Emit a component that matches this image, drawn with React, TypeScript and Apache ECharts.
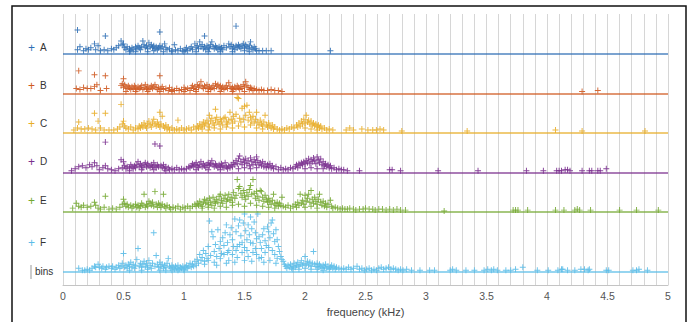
import React, { useEffect, useRef } from "react";
import * as echarts from "echarts";

// Row names and colours
const NAMES = ["A", "B", "C", "D", "E", "F"];
const COLORS = ["#2f6fb5", "#cf5a22", "#e8ad28", "#7a2f8e", "#74a832", "#5bbce8"];
// Frequency ticks (kHz)
const FREQ_MIN = 0;
const FREQ_MAX = 5;
const GRID_STEP = 0.1;
const LABEL_STEP = 0.5;

// [frequency kHz, bin height] per row
const A_PTS: number[][] = [
  [0.12, 24], [0.35, 18], [0.80, 22], [1.17, 18], [1.43, 28],
  [0.12, 4], [0.14, 7], [0.17, 3], [0.19, 5], [0.21, 4], [0.23, 6], [0.26, 10], [0.27, 4], [0.29, 8], [0.31, 3],
  [0.34, 4], [0.37, 3], [0.40, 5], [0.42, 4], [0.44, 6], [0.46, 8], [0.48, 13], [0.49, 9], [0.50, 10], [0.51, 6],
  [0.52, 4], [0.53, 7], [0.55, 5], [0.56, 3], [0.57, 6], [0.58, 4], [0.60, 7], [0.61, 5], [0.62, 8], [0.63, 6],
  [0.64, 4], [0.65, 7], [0.66, 13], [0.67, 9], [0.68, 6], [0.69, 8], [0.70, 5], [0.71, 11], [0.72, 7], [0.73, 9],
  [0.74, 6], [0.75, 8], [0.76, 5], [0.77, 7], [0.78, 4], [0.79, 6], [0.80, 8], [0.81, 5], [0.82, 7], [0.84, 10],
  [0.85, 6], [0.86, 4], [0.88, 5], [0.90, 3], [0.92, 9], [0.93, 4], [0.95, 3], [0.97, 5], [0.99, 3], [1.01, 4],
  [1.02, 6], [1.03, 3], [1.05, 5], [1.06, 7], [1.07, 4], [1.09, 10], [1.10, 6], [1.11, 8], [1.12, 5], [1.13, 12],
  [1.14, 7], [1.15, 9], [1.16, 5], [1.17, 7], [1.18, 4], [1.19, 8], [1.20, 6], [1.21, 5], [1.22, 9], [1.23, 12],
  [1.24, 7], [1.25, 5], [1.26, 8], [1.27, 6], [1.28, 4], [1.29, 7], [1.30, 5], [1.31, 6], [1.32, 4], [1.33, 8],
  [1.35, 6], [1.37, 10], [1.38, 7], [1.39, 9], [1.40, 5], [1.41, 7], [1.42, 4], [1.43, 8], [1.44, 6], [1.45, 9],
  [1.46, 7], [1.47, 5], [1.48, 8], [1.49, 10], [1.50, 6], [1.51, 9], [1.52, 7], [1.53, 5], [1.54, 8], [1.55, 12],
  [1.56, 6], [1.57, 4], [1.58, 7], [1.59, 5], [1.60, 3], [1.62, 3], [1.65, 3], [1.68, 3], [1.72, 3], [2.21, 3],
  [0.55, 2], [0.60, 2], [0.70, 2], [0.75, 3], [0.83, 2], [0.90, 2], [1.00, 2], [1.10, 2], [1.20, 2], [1.30, 2],
  [1.40, 2], [1.50, 3], [1.54, 2],
];

const B_PTS: number[][] = [
  [0.13, 23], [0.26, 19], [0.35, 18], [0.50, 15], [0.80, 18],
  [0.11, 5], [0.14, 4], [0.17, 6], [0.20, 5], [0.23, 5], [0.26, 7], [0.28, 9], [0.31, 3], [0.36, 5], [0.48, 8],
  [0.49, 10], [0.50, 6], [0.51, 9], [0.52, 7], [0.53, 5], [0.54, 8], [0.55, 6], [0.56, 4], [0.57, 7], [0.58, 5],
  [0.59, 8], [0.60, 6], [0.61, 4], [0.62, 7], [0.63, 5], [0.64, 6], [0.65, 8], [0.66, 4], [0.67, 6], [0.68, 9],
  [0.69, 5], [0.70, 7], [0.71, 4], [0.72, 6], [0.73, 8], [0.74, 5], [0.75, 7], [0.76, 9], [0.77, 6], [0.78, 4],
  [0.79, 6], [0.81, 5], [0.82, 7], [0.83, 4], [0.85, 5], [0.87, 3], [0.88, 6], [0.90, 4], [0.92, 3], [0.94, 5],
  [0.96, 3], [0.98, 4], [1.00, 6], [1.01, 4], [1.03, 5], [1.05, 3], [1.06, 6], [1.07, 8], [1.08, 5], [1.09, 7],
  [1.10, 4], [1.11, 9], [1.12, 6], [1.13, 8], [1.14, 12], [1.15, 7], [1.16, 5], [1.17, 8], [1.18, 6], [1.19, 9],
  [1.20, 5], [1.21, 7], [1.22, 4], [1.23, 6], [1.24, 8], [1.25, 5], [1.26, 10], [1.27, 7], [1.28, 9], [1.29, 6],
  [1.30, 8], [1.31, 5], [1.32, 7], [1.33, 4], [1.34, 6], [1.35, 8], [1.36, 5], [1.37, 11], [1.38, 7], [1.39, 5],
  [1.40, 6], [1.41, 4], [1.42, 7], [1.43, 5], [1.44, 8], [1.45, 6], [1.46, 4], [1.47, 7], [1.48, 5], [1.49, 9],
  [1.50, 7], [1.51, 12], [1.52, 8], [1.53, 6], [1.54, 4], [1.55, 6], [1.56, 5], [1.57, 3], [1.58, 5], [1.60, 4],
  [1.62, 3], [1.64, 4], [1.66, 3], [1.69, 3], [1.72, 4], [1.75, 3], [1.78, 3], [1.81, 2], [4.29, 2], [4.42, 3],
  [0.52, 2], [0.60, 2], [0.70, 2], [0.80, 2], [0.90, 2], [1.00, 2], [1.10, 2], [1.20, 2], [1.30, 2], [1.40, 2], [1.50, 2],
];

const C_PTS: number[][] = [
  [0.13, 11], [0.26, 20], [0.29, 12], [0.35, 20], [0.48, 29], [0.80, 21], [0.82, 17], [0.95, 13], [1.21, 18], [1.26, 24],
  [0.09, 3], [0.12, 5], [0.15, 4], [0.18, 4], [0.21, 5], [0.24, 4], [0.27, 3], [0.31, 5], [0.34, 3], [0.38, 3],
  [0.42, 3], [0.45, 4], [0.47, 6], [0.49, 9], [0.50, 12], [0.51, 7], [0.52, 5],
  [0.54, 4], [0.56, 6], [0.58, 3], [0.60, 5], [0.62, 4], [0.63, 7], [0.64, 5], [0.65, 8], [0.66, 6], [0.67, 10],
  [0.68, 7], [0.69, 5], [0.70, 9], [0.71, 12], [0.72, 8], [0.73, 6], [0.74, 10], [0.75, 14], [0.76, 9], [0.77, 7],
  [0.78, 11], [0.79, 8], [0.80, 6], [0.81, 9], [0.83, 7], [0.84, 5], [0.85, 8], [0.86, 4], [0.87, 6], [0.88, 3],
  [0.90, 5], [0.92, 3], [0.94, 4], [0.96, 3], [0.98, 5], [1.00, 3], [1.02, 4], [1.04, 5], [1.06, 3], [1.08, 6], [1.10, 4],
  [1.11, 7], [1.12, 5], [1.13, 9], [1.14, 6], [1.15, 8], [1.16, 11], [1.17, 7], [1.18, 10], [1.19, 13], [1.20, 9],
  [1.21, 6], [1.22, 12], [1.23, 15], [1.24, 10], [1.25, 8], [1.26, 13], [1.27, 16], [1.28, 11], [1.29, 9], [1.30, 14],
  [1.31, 12], [1.32, 8], [1.33, 15], [1.34, 16], [1.35, 11], [1.36, 9], [1.37, 13], [1.38, 21], [1.39, 14], [1.40, 10],
  [1.41, 17], [1.42, 12], [1.43, 19], [1.44, 36], [1.45, 35], [1.46, 15], [1.47, 11], [1.48, 25], [1.49, 14], [1.50, 27],
  [1.51, 18], [1.52, 28], [1.53, 13], [1.54, 21], [1.55, 16], [1.56, 12], [1.57, 17], [1.58, 10], [1.59, 14], [1.60, 21],
  [1.61, 11], [1.62, 8], [1.63, 13], [1.64, 9], [1.65, 7], [1.66, 11], [1.67, 18], [1.68, 8], [1.69, 6], [1.70, 10],
  [1.71, 7], [1.72, 5], [1.73, 8], [1.74, 4], [1.75, 6], [1.77, 4], [1.79, 3],
  [1.15, 4], [1.20, 3], [1.25, 5], [1.30, 4], [1.35, 6], [1.40, 5], [1.45, 7], [1.50, 6], [1.55, 8], [1.60, 5], [1.65, 4],
  [1.81, 4], [1.83, 3], [1.85, 5], [1.87, 4], [1.89, 6], [1.91, 5],
  [1.93, 8], [1.94, 6], [1.95, 10], [1.96, 7], [1.97, 12], [1.98, 9], [1.99, 14], [2.00, 10], [2.01, 18], [2.02, 11],
  [2.03, 13], [2.04, 9], [2.05, 12], [2.06, 8], [2.07, 10], [2.08, 7], [2.09, 9], [2.10, 6], [2.11, 8], [2.12, 5],
  [2.13, 7], [2.14, 4], [2.16, 5], [2.18, 3], [2.20, 4], [2.23, 3], [2.00, 5], [2.05, 4], [2.10, 3],
  [2.34, 3], [2.37, 5], [2.40, 3], [2.47, 4], [2.52, 3], [2.56, 3], [2.59, 3], [2.62, 4], [2.65, 3], [2.80, 2],
  [3.34, 2], [4.07, 3], [4.29, 2], [4.81, 2],
];

const D_PTS: number[][] = [
  [0.35, 31], [0.76, 29], [0.80, 27], [0.48, 13], [0.50, 11], [0.62, 11],
  [0.07, 2], [0.10, 4], [0.13, 6], [0.16, 7], [0.19, 5], [0.22, 8], [0.24, 6], [0.26, 10], [0.28, 7], [0.30, 3],
  [0.33, 5], [0.35, 7], [0.37, 4], [0.40, 3], [0.43, 2], [0.46, 4],
  [0.49, 5], [0.51, 7], [0.52, 4], [0.53, 6], [0.55, 5], [0.56, 8], [0.57, 6], [0.58, 4], [0.59, 7], [0.60, 5],
  [0.61, 8], [0.63, 6], [0.64, 9], [0.65, 7], [0.66, 5], [0.67, 8], [0.68, 10], [0.69, 6], [0.70, 9], [0.71, 7],
  [0.72, 5], [0.73, 8], [0.74, 6], [0.75, 10], [0.76, 7], [0.77, 5], [0.78, 8], [0.79, 6], [0.81, 7], [0.82, 5],
  [0.83, 8], [0.84, 4], [0.85, 6], [0.87, 5], [0.88, 3], [0.90, 4], [0.92, 3], [0.94, 5], [0.96, 3], [0.98, 4],
  [1.00, 3], [1.02, 4], [1.04, 6],
  [1.05, 5], [1.06, 7], [1.07, 9], [1.08, 6], [1.09, 8], [1.10, 10], [1.11, 7], [1.12, 5], [1.13, 8], [1.14, 11],
  [1.15, 6], [1.16, 9], [1.17, 7], [1.18, 5], [1.19, 8], [1.20, 10], [1.21, 7], [1.22, 9], [1.23, 12], [1.24, 8],
  [1.25, 6], [1.26, 9], [1.27, 7], [1.28, 5], [1.29, 8], [1.30, 6], [1.31, 9], [1.32, 7], [1.33, 5], [1.34, 10],
  [1.35, 6], [1.36, 4], [1.37, 7], [1.38, 5],
  [1.39, 8], [1.40, 6], [1.41, 10], [1.42, 8], [1.43, 12], [1.44, 9], [1.45, 14], [1.46, 17], [1.47, 11], [1.48, 8],
  [1.49, 13], [1.50, 10], [1.51, 14], [1.52, 9], [1.53, 12], [1.54, 7], [1.55, 15], [1.56, 11], [1.57, 8], [1.58, 13],
  [1.59, 10], [1.60, 16], [1.61, 12], [1.62, 8], [1.63, 10], [1.64, 7], [1.65, 11], [1.66, 6], [1.67, 9], [1.68, 5],
  [1.69, 8], [1.70, 6], [1.71, 9], [1.72, 5], [1.73, 7], [1.74, 4], [1.76, 6], [1.78, 3], [1.80, 5], [1.82, 3],
  [1.84, 4], [1.86, 3], [1.88, 5], [1.90, 4],
  [1.92, 6], [1.93, 8], [1.94, 5], [1.95, 9], [1.96, 7], [1.97, 10], [1.98, 8], [1.99, 11], [2.00, 9], [2.01, 12],
  [2.02, 10], [2.03, 14], [2.04, 9], [2.05, 13], [2.06, 11], [2.07, 15], [2.08, 12], [2.09, 9], [2.10, 16], [2.11, 13],
  [2.12, 10], [2.13, 14], [2.14, 8], [2.15, 11], [2.16, 7], [2.17, 9], [2.18, 6], [2.19, 8], [2.20, 5], [2.21, 7],
  [2.22, 4], [2.24, 5], [2.26, 3], [2.28, 4], [2.30, 3], [2.32, 3], [2.35, 2],
  [0.55, 2], [0.65, 3], [0.75, 3], [0.85, 2], [1.10, 3], [1.20, 3], [1.30, 3], [1.45, 4], [1.50, 5], [1.55, 4],
  [1.60, 5], [2.00, 4], [2.05, 5], [2.10, 4], [2.15, 4],
  [2.45, 2], [2.70, 3], [2.72, 3], [2.79, 2], [3.10, 2], [3.43, 2], [3.83, 2], [3.97, 2], [4.08, 2], [4.10, 2],
  [4.12, 2], [4.15, 3], [4.17, 3], [4.19, 2], [4.29, 2], [4.35, 2], [4.37, 2], [4.42, 2], [4.44, 2], [4.49, 4],
];

const E_PTS: number[][] = [
  [0.35, 16], [0.67, 18], [0.76, 21], [0.83, 18], [0.50, 13], [0.71, 11], [0.26, 10],
  [0.08, 4], [0.11, 9], [0.13, 6], [0.15, 5], [0.17, 7], [0.20, 5], [0.23, 6], [0.27, 7], [0.29, 4], [0.31, 3],
  [0.34, 5], [0.38, 3], [0.41, 4], [0.44, 3], [0.47, 5], [0.49, 8],
  [0.51, 9], [0.52, 6], [0.53, 8], [0.54, 5], [0.56, 7], [0.57, 4], [0.58, 6], [0.60, 8], [0.61, 5], [0.62, 7],
  [0.63, 4], [0.64, 6], [0.65, 9], [0.66, 7], [0.68, 5], [0.69, 8], [0.70, 6], [0.72, 9], [0.73, 7], [0.74, 10],
  [0.75, 6], [0.77, 8], [0.78, 5], [0.79, 9], [0.80, 7], [0.81, 5], [0.82, 8], [0.84, 6], [0.85, 4], [0.86, 7],
  [0.88, 5], [0.89, 3], [0.91, 5], [0.93, 4], [0.95, 6], [0.97, 3], [0.99, 5], [1.01, 4], [1.03, 6], [1.05, 4],
  [1.07, 6], [1.09, 8],
  [1.10, 6], [1.11, 9], [1.12, 7], [1.13, 11], [1.14, 8], [1.15, 6], [1.16, 10], [1.17, 13], [1.18, 9], [1.19, 12],
  [1.20, 8], [1.21, 14], [1.22, 10], [1.23, 7], [1.24, 15], [1.25, 11], [1.26, 9], [1.27, 13], [1.28, 10], [1.29, 16],
  [1.30, 18], [1.31, 12], [1.32, 9], [1.33, 14], [1.34, 17], [1.35, 11], [1.36, 13], [1.37, 18], [1.38, 12], [1.39, 15],
  [1.40, 10], [1.41, 20], [1.42, 14], [1.43, 17], [1.44, 33], [1.45, 24], [1.46, 26], [1.47, 19], [1.48, 15], [1.49, 22],
  [1.50, 17], [1.51, 13], [1.52, 20], [1.53, 16], [1.54, 23], [1.55, 27], [1.56, 18], [1.57, 33], [1.58, 19], [1.59, 14],
  [1.60, 21], [1.61, 16], [1.62, 12], [1.63, 22], [1.64, 21], [1.65, 15], [1.66, 11], [1.67, 17], [1.68, 13], [1.69, 10],
  [1.70, 14], [1.71, 11], [1.72, 8], [1.73, 12], [1.74, 18], [1.75, 9], [1.76, 7], [1.77, 10], [1.78, 6], [1.79, 9],
  [1.80, 7], [1.81, 15], [1.82, 6], [1.84, 5], [1.86, 7], [1.88, 4], [1.90, 6],
  [1.15, 4], [1.20, 5], [1.25, 4], [1.30, 6], [1.35, 5], [1.40, 7], [1.45, 8], [1.50, 6], [1.55, 9], [1.60, 7],
  [1.65, 6], [1.70, 5], [1.75, 4],
  [1.92, 8], [1.93, 5], [1.94, 10], [1.95, 7], [1.96, 18], [1.97, 9], [1.98, 12], [1.99, 8], [2.00, 17], [2.01, 11],
  [2.02, 14], [2.03, 18], [2.04, 10], [2.05, 22], [2.06, 13], [2.07, 9], [2.08, 15], [2.09, 11], [2.10, 8], [2.11, 13],
  [2.12, 18], [2.13, 10], [2.14, 7], [2.15, 11], [2.16, 6], [2.17, 9], [2.18, 5], [2.19, 8], [2.21, 12], [2.22, 6],
  [2.23, 4], [2.25, 5], [2.00, 5], [2.05, 6], [2.10, 4],
  [2.27, 4], [2.29, 3], [2.31, 4], [2.33, 3], [2.35, 3], [2.37, 4], [2.40, 3], [2.42, 2], [2.45, 3], [2.48, 3],
  [2.50, 4], [2.53, 3], [2.56, 3], [2.58, 2], [2.61, 3], [2.64, 3], [2.67, 2], [2.70, 3], [2.73, 2], [2.76, 3],
  [2.79, 2], [2.83, 2],
  [3.15, 1], [3.72, 2], [3.74, 2], [3.76, 2], [3.84, 2], [4.07, 2], [4.14, 2], [4.23, 2], [4.25, 3], [4.27, 2],
  [4.36, 2], [4.60, 2], [4.74, 2], [4.92, 2],
];

const F_PTS: number[][] = [
  [0.13, 4], [0.16, 2], [0.18, 2], [0.20, 3], [0.22, 2], [0.24, 4], [0.26, 6], [0.27, 5], [0.29, 8], [0.30, 5],
  [0.32, 4], [0.33, 6], [0.35, 3], [0.36, 5], [0.38, 6], [0.40, 4], [0.41, 6], [0.43, 3], [0.44, 5], [0.46, 7],
  [0.47, 4], [0.48, 6], [0.49, 9], [0.50, 19], [0.51, 5], [0.52, 7], [0.53, 4], [0.54, 8], [0.55, 6], [0.56, 10],
  [0.57, 5], [0.58, 8], [0.59, 4], [0.60, 7], [0.61, 13], [0.62, 24], [0.63, 6], [0.64, 9], [0.65, 5], [0.66, 8],
  [0.67, 11], [0.68, 6], [0.69, 9], [0.70, 5], [0.71, 12], [0.72, 7], [0.73, 4], [0.74, 9], [0.75, 40], [0.76, 6],
  [0.77, 17], [0.78, 8], [0.79, 5], [0.80, 10], [0.81, 6], [0.82, 8], [0.83, 4], [0.84, 7], [0.85, 5], [0.86, 9],
  [0.87, 14], [0.88, 6], [0.89, 4], [0.90, 7], [0.91, 5], [0.92, 3], [0.93, 6], [0.94, 4], [0.95, 7], [0.96, 3],
  [0.97, 5], [0.98, 4], [0.99, 6], [1.00, 3], [1.01, 5], [1.02, 7], [1.03, 4], [1.04, 6], [1.05, 9], [1.06, 5],
  [1.07, 8], [1.08, 6], [1.09, 11], [1.10, 7], [1.11, 13], [1.12, 9], [1.13, 18], [1.14, 12],
  [0.55, 2], [0.65, 2], [0.70, 3], [0.80, 2], [0.85, 2], [0.90, 2], [0.95, 2], [1.00, 2],
  [1.15, 15], [1.16, 22], [1.17, 11], [1.18, 19], [1.19, 14], [1.20, 26], [1.21, 52], [1.22, 17], [1.23, 41], [1.24, 36],
  [1.25, 21], [1.26, 28], [1.27, 16], [1.28, 43], [1.29, 24], [1.30, 31], [1.31, 19], [1.32, 35], [1.33, 27], [1.34, 40],
  [1.35, 48], [1.36, 30], [1.37, 22], [1.38, 38], [1.39, 45], [1.40, 33], [1.41, 26], [1.42, 54], [1.43, 41], [1.44, 26],
  [1.45, 47], [1.46, 53], [1.47, 37], [1.48, 30], [1.49, 50], [1.50, 59], [1.51, 42], [1.52, 33], [1.53, 48], [1.54, 38],
  [1.55, 56], [1.56, 44], [1.57, 29], [1.58, 51], [1.59, 40], [1.60, 34], [1.61, 59], [1.62, 36],
  [1.17, 8], [1.20, 12], [1.25, 10], [1.30, 14], [1.33, 18], [1.36, 20], [1.40, 18], [1.43, 22], [1.46, 28], [1.48, 20],
  [1.50, 25], [1.52, 22], [1.55, 30], [1.57, 20], [1.59, 24], [1.60, 18], [1.37, 12], [1.44, 15], [1.53, 16], [1.62, 14],
  [1.27, 7], [1.35, 9], [1.42, 10], [1.50, 12], [1.56, 11],
  [1.63, 30], [1.64, 24], [1.65, 38], [1.66, 44], [1.67, 32], [1.68, 27], [1.69, 46], [1.70, 41], [1.71, 35], [1.72, 50],
  [1.73, 53], [1.74, 39], [1.75, 31], [1.76, 43], [1.77, 33], [1.78, 26], [1.79, 21], [1.80, 16], [1.81, 13], [1.82, 11],
  [1.83, 8], [1.64, 15], [1.67, 20], [1.70, 25], [1.73, 22], [1.75, 18], [1.77, 14], [1.66, 10], [1.71, 12], [1.76, 9],
  [1.84, 6], [1.85, 4], [1.86, 7], [1.87, 5], [1.88, 8], [1.89, 4], [1.90, 6], [1.91, 9], [1.92, 5], [1.93, 7],
  [1.94, 10], [1.95, 6], [1.96, 8], [1.97, 12], [1.98, 7], [1.99, 9], [2.00, 16], [2.01, 8], [2.02, 11], [2.03, 7],
  [2.04, 10], [2.05, 6], [2.06, 9], [2.07, 21], [2.08, 8], [2.09, 6], [2.10, 9], [2.11, 5], [2.12, 8], [2.13, 6],
  [2.14, 4], [2.15, 7], [2.16, 5], [2.17, 8], [2.18, 4], [2.19, 6], [2.20, 3], [2.21, 5], [2.22, 7], [2.23, 4],
  [2.24, 6], [2.25, 3], [2.26, 5], [2.28, 4], [2.30, 3],
  [1.90, 3], [1.95, 3], [2.00, 4], [2.05, 3], [2.10, 3], [2.15, 2],
  [2.32, 4], [2.34, 3], [2.36, 5], [2.38, 3], [2.40, 4], [2.43, 6], [2.45, 3], [2.47, 4], [2.49, 2], [2.51, 3],
  [2.53, 4], [2.55, 2], [2.57, 3], [2.59, 2], [2.61, 4], [2.63, 5], [2.65, 3], [2.67, 4], [2.69, 5], [2.71, 3],
  [2.73, 4], [2.75, 3], [2.77, 2], [2.79, 3], [2.81, 2], [2.84, 3],
  [2.88, 2], [2.95, 2], [3.03, 2], [3.07, 2], [3.20, 2], [3.22, 3], [3.25, 2], [3.33, 2], [3.40, 2], [3.48, 2],
  [3.51, 3], [3.54, 2], [3.56, 3], [3.59, 2], [3.66, 2], [3.70, 2], [3.74, 3], [3.80, 5], [3.92, 2], [4.01, 2],
  [4.09, 2], [4.12, 3], [4.13, 3], [4.17, 2], [4.23, 2], [4.28, 3], [4.31, 3], [4.34, 2], [4.35, 3], [4.49, 2],
  [4.51, 2], [4.71, 2], [4.74, 2], [4.76, 3], [4.83, 2],
];

const ROW_POINTS = [A_PTS, B_PTS, C_PTS, D_PTS, E_PTS, F_PTS];

// Layout (stacking offsets of each row baseline, in y-axis units = px)
const Y_MAX = 275;
const ROW_BASE = [234.7, 194.3, 154.3, 114, 74, 13];
const LEGEND_Y = [47.7, 85.7, 124, 162.3, 200.7, 243.3];

const PLUS = "path://M4.2,0h1.6v4.2h4.2v1.6h-4.2v4.2h-1.6v-4.2h-4.2v-1.6h4.2z";
const FONT = "'Liberation Sans', Arial, Helvetica, sans-serif";

export default function App() {
  const ref = useRef<HTMLDivElement>(null);

  useEffect(() => {
    if (!ref.current) return;
    const chart = echarts.init(ref.current, null, { renderer: "svg" });

    const series = NAMES.map((name, i) => ({
      name,
      type: "scatter",
      xAxisIndex: 1,
      symbol: PLUS,
      symbolSize: 6,
      itemStyle: { color: COLORS[i], opacity: 0.9 },
      data: ROW_POINTS[i].map(([f, h]) => [f, ROW_BASE[i] + h]),
      markLine: {
        silent: true,
        symbol: "none",
        label: { show: false },
        lineStyle: { color: COLORS[i], width: 1.6, type: "solid", opacity: 0.85 },
        data: [{ yAxis: ROW_BASE[i] }],
      },
      z: 3,
    }));

    const legendGraphics: any[] = [];
    NAMES.forEach((name, i) => {
      legendGraphics.push({
        type: "text",
        left: 28,
        top: LEGEND_Y[i] - 6,
        style: { text: "+", fill: COLORS[i], font: `12px ${FONT}` },
      });
      legendGraphics.push({
        type: "text",
        left: 40,
        top: LEGEND_Y[i] - 5.5,
        style: { text: name, fill: "#333", font: `10px ${FONT}` },
      });
    });

    chart.setOption({
      animation: false,
      backgroundColor: "#fff",
      grid: { left: 63, right: 28, top: 14, bottom: 33 },
      xAxis: [
        {
          type: "value",
          min: FREQ_MIN,
          max: FREQ_MAX,
          interval: GRID_STEP,
          position: "bottom",
          axisLabel: { show: false },
          axisTick: { show: false },
          axisLine: { show: false },
          splitLine: { show: true, lineStyle: { color: "#d6d6d6", width: 1 } },
        },
        {
          type: "value",
          min: FREQ_MIN,
          max: FREQ_MAX,
          interval: LABEL_STEP,
          position: "bottom",
          axisLine: { show: true, lineStyle: { color: "#c4c4c4", width: 1 } },
          axisTick: { show: false },
          splitLine: { show: false },
          axisLabel: { color: "#555", fontSize: 10.5, margin: 5, fontFamily: FONT },
          name: "frequency (kHz)",
          nameLocation: "middle",
          nameGap: 21,
          nameTextStyle: { color: "#444", fontSize: 11, fontFamily: FONT },
        },
      ],
      yAxis: { type: "value", min: 0, max: Y_MAX, show: false },
      series,
      graphic: [
        ...legendGraphics,
        {
          type: "line",
          shape: { x1: 31, y1: 265, x2: 31, y2: 279 },
          style: { stroke: "#999", lineWidth: 1 },
        },
        {
          type: "text",
          left: 35,
          top: 266,
          style: { text: "bins", fill: "#333", font: `10px ${FONT}` },
        },
        {
          type: "rect",
          z: 100,
          shape: { x: 12, y: 6, width: 674, height: 330 },
          style: { fill: "none", stroke: "#111", lineWidth: 1.5 },
        },
      ],
    });

    return () => chart.dispose();
  }, []);

  return (
    <div
      ref={ref}
      style={{ position: "fixed", left: 0, top: 0, width: 696, height: 322 }}
    />
  );
}
